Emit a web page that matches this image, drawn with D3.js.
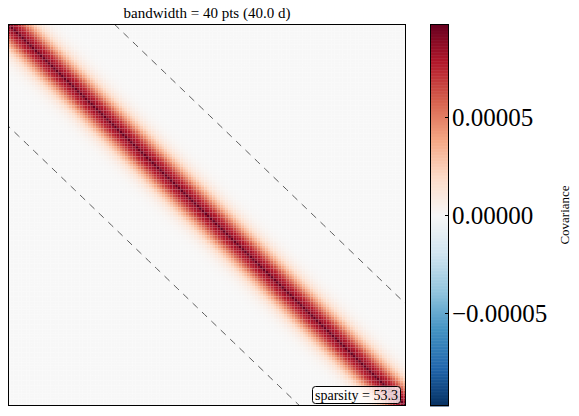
<!DOCTYPE html>
<html>
<head>
<meta charset="utf-8">
<script src="https://cdn.jsdelivr.net/npm/d3@7"></script>
<style>
  body { margin: 0; background: #fff; }
  svg text { font-family: "Liberation Serif", "DejaVu Serif", serif; fill: #000; }
</style>
</head>
<body>
<div id="chart"></div>
<script>
// covariance model
const nPts = 150;              // points on each axis
const bandwidth = 40;          // taper width, pts
const ampSmooth = 8.6e-5;      // smooth kernel amplitude
const lengthScale = 6.2;       // kernel length scale, pts
const ampNoise = 1.15e-5;      // extra variance on the diagonal
const cbTicks = [-5e-5, 0, 5e-5];
const cbTickLabels = ["\u22120.00005", "0.00000", "0.00005"];
const titleText = "bandwidth = 40 pts (40.0 d)";
const sparsityText = "sparsity = 53.3";
const cbLabel = "Covariance";
const rdbuColors = ["#053061", "#2166ac", "#4393c3", "#92c5de", "#d1e5f0", "#f7f7f7",
                    "#fddbc7", "#f4a582", "#d6604d", "#b2182b", "#67001f"];

var width = 579, height = 416;
var plot = { left: 8, top: 24, right: 406, bottom: 406 };
var cbar = { left: 430, right: 449 };

var svg = d3.select("#chart").append("svg")
  .attr("width", width).attr("height", height)
  .attr("font-family", "Liberation Serif, DejaVu Serif, serif");

// build the banded matrix
var cells = [];
for (var i = 0; i < nPts; i++) {
  for (var j = 0; j < nPts; j++) {
    var d = Math.abs(i - j);
    var v = 0;
    if (d <= bandwidth) {
      v = ampSmooth * Math.exp(-d * d / (2 * lengthScale * lengthScale));
      if (d == 0) v += ampNoise;
    }
    cells.push({ row: i, col: j, value: v });
  }
}
var vmax = d3.max(cells, function (c) { return c.value; });
var vmin = -vmax;

var color = d3.scaleSequential(d3.piecewise(d3.interpolateRgb, rdbuColors))
  .domain([vmin, vmax]);

var x = d3.scaleLinear().domain([-0.5, nPts - 0.5]).range([plot.left, plot.right]);
var y = d3.scaleLinear().domain([-0.5, nPts - 0.5]).range([plot.top, plot.bottom]);

svg.append("g")
  .selectAll("rect")
  .data(cells)
  .enter()
  .append("rect")
  .attr("x", function (c) { return x(c.col - 0.5); })
  .attr("y", function (c) { return y(c.row - 0.5); })
  .attr("width", x(1) - x(0))
  .attr("height", y(1) - y(0))
  .attr("fill", function (c) { return color(c.value); });

// bandwidth limits
svg.append("clipPath").attr("id", "plotclip")
  .append("rect")
  .attr("x", plot.left).attr("y", plot.top)
  .attr("width", plot.right - plot.left).attr("height", plot.bottom - plot.top);

[bandwidth, -bandwidth].forEach(function (off) {
  var pts = d3.range(-0.5, nPts, 1).map(function (r) { return [r + off, r]; });
  svg.append("path")
    .datum(pts)
    .attr("clip-path", "url(#plotclip)")
    .attr("fill", "none")
    .attr("stroke", "#5a5a5a")
    .attr("stroke-width", 1)
    .attr("stroke-dasharray", "7,6")
    .attr("d", d3.line().x(function (p) { return x(p[0]); }).y(function (p) { return y(p[1]); }));
});

// frame
svg.append("rect")
  .attr("x", plot.left + 0.5).attr("y", plot.top + 0.5)
  .attr("width", plot.right - plot.left - 1).attr("height", plot.bottom - plot.top - 1)
  .attr("fill", "none").attr("stroke", "#000").attr("stroke-width", 1);

svg.append("text")
  .attr("x", (plot.left + plot.right) / 2)
  .attr("y", 18)
  .attr("text-anchor", "middle")
  .style("font-size", "15px")
  .text(titleText);

// sparsity box
var sp = svg.append("g");
sp.append("rect")
  .attr("x", 312.5).attr("y", 386.5).attr("width", 88).attr("height", 17)
  .attr("rx", 3).attr("ry", 3)
  .attr("fill", "#fff").attr("fill-opacity", 0.75)
  .attr("stroke", "#000").attr("stroke-width", 1);
sp.append("text")
  .attr("x", 356.5).attr("y", 399.5)
  .attr("text-anchor", "middle")
  .style("font-size", "14px")
  .text(sparsityText);

// colorbar
var yc = d3.scaleLinear().domain([vmin, vmax]).range([plot.bottom, plot.top]);
var steps = d3.range(256).map(function (k) { return vmin + (vmax - vmin) * (k + 0.5) / 256; });
var dv = (vmax - vmin) / 256;
svg.append("g")
  .selectAll("rect")
  .data(steps)
  .enter()
  .append("rect")
  .attr("x", cbar.left)
  .attr("width", cbar.right - cbar.left)
  .attr("y", function (v) { return yc(v + dv / 2); })
  .attr("height", function (v) { return yc(v - dv / 2) - yc(v + dv / 2) + 0.5; })
  .attr("fill", function (v) { return color(v); });

svg.append("rect")
  .attr("x", cbar.left + 0.5).attr("y", plot.top + 0.5)
  .attr("width", cbar.right - cbar.left - 1).attr("height", plot.bottom - plot.top - 1)
  .attr("fill", "none").attr("stroke", "#000").attr("stroke-width", 1);

var cbAxis = svg.append("g");
cbTicks.forEach(function (t, k) {
  var ty = Math.round(yc(t)) + 0.5;
  cbAxis.append("line")
    .attr("x1", cbar.right - 4).attr("x2", cbar.right)
    .attr("y1", ty).attr("y2", ty)
    .attr("stroke", "#000");
  cbAxis.append("text")
    .attr("x", cbar.right + 3)
    .attr("y", yc(t))
    .attr("dy", "0.35em")
    .style("font-size", "25px")
    .text(cbTickLabels[k]);
});

svg.append("text")
  .attr("transform", "translate(569," + (plot.top + plot.bottom) / 2 + ") rotate(-90)")
  .attr("text-anchor", "middle")
  .style("font-size", "13px")
  .text(cbLabel);
</script>
</body>
</html>
